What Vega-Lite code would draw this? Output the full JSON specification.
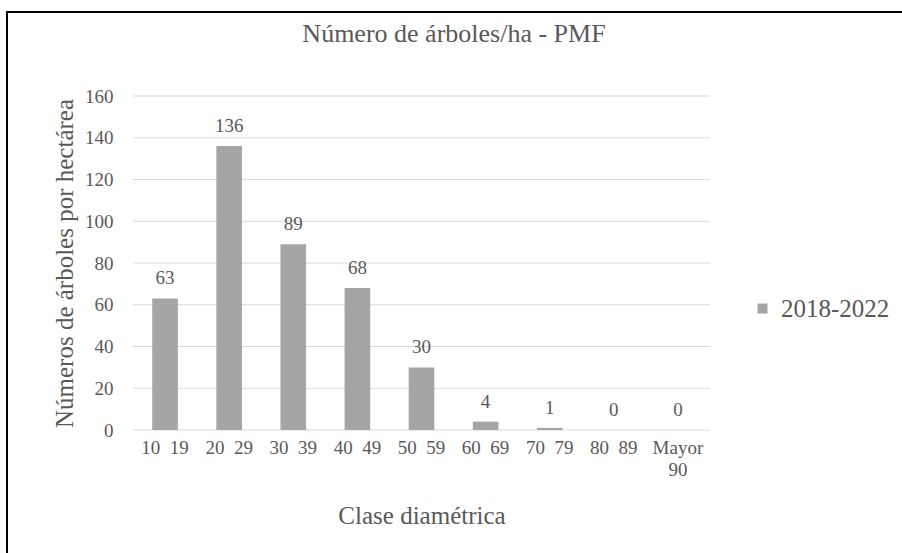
{
  "$schema": "https://vega.github.io/schema/vega-lite/v6.json",
  "width": 897,
  "height": 543,
  "autosize": {"type": "none"},
  "padding": {"left": 7, "top": 12, "right": -2, "bottom": -2},
  "background": "white",
  "title": {
    "text": "Número de árboles/ha - PMF",
    "font": "Liberation Serif",
    "fontSize": 26,
    "fontWeight": "normal",
    "color": "#595959",
    "anchor": "middle",
    "dx": -1.5,
    "offset": -35
  },
  "data": {
    "values": [
      {"clase": "10 19", "arboles": 63, "serie": "2018-2022"},
      {"clase": "20 29", "arboles": 136, "serie": "2018-2022"},
      {"clase": "30 39", "arboles": 89, "serie": "2018-2022"},
      {"clase": "40 49", "arboles": 68, "serie": "2018-2022"},
      {"clase": "50 59", "arboles": 30, "serie": "2018-2022"},
      {"clase": "60 69", "arboles": 4, "serie": "2018-2022"},
      {"clase": "70 79", "arboles": 1, "serie": "2018-2022"},
      {"clase": "80 89", "arboles": 0, "serie": "2018-2022"},
      {"clase": "Mayor 90", "arboles": 0, "serie": "2018-2022"}
    ]
  },
  "encoding": {
    "x": {
      "field": "clase",
      "type": "nominal",
      "sort": null,
      "title": "Clase diamétrica",
      "scale": {
        "domain": ["10 19", "20 29", "30 39", "40 49", "50 59", "60 69", "70 79", "80 89", "Mayor 90"],
        "range": [126, 703],
        "paddingInner": 0.6,
        "paddingOuter": 0.3
      },
      "axis": {
        "offset": -125,
        "domain": false,
        "labelAngle": 0,
        "labelFont": "Liberation Serif",
        "labelFontSize": 19,
        "labelColor": "#595959",
        "labelPadding": 8,
        "labelOverlap": false,
        "labelBound": false,
        "labelLineHeight": 22,
        "labelExpr": "datum.value == 'Mayor 90' ? ['Mayor', '90'] : replace(datum.value, ' ', '\u00a0\u00a0')",
        "ticks": false,
        "tickSize": 0,
        "titleFont": "Liberation Serif",
        "titleFontSize": 25,
        "titleFontWeight": "normal",
        "titleColor": "#595959",
        "titlePadding": 24
      }
    },
    "y": {
      "field": "arboles",
      "type": "quantitative",
      "title": "Números de árboles por hectárea",
      "scale": {"domain": [0, 160], "range": [418, 84], "nice": false},
      "axis": {
        "offset": -126,
        "values": [0, 20, 40, 60, 80, 100, 120, 140, 160],
        "domain": false,
        "ticks": false,
        "tickSize": 0,
        "grid": false,
        "labelFont": "Liberation Serif",
        "labelFontSize": 19,
        "labelColor": "#595959",
        "labelPadding": 20,
        "titleFont": "Liberation Serif",
        "titleFontSize": 25,
        "titleFontWeight": "normal",
        "titleColor": "#595959",
        "titlePadding": 7
      }
    }
  },
  "layer": [
    {
      "data": {
        "values": [
          {"grid": 0}, {"grid": 20}, {"grid": 40}, {"grid": 60}, {"grid": 80},
          {"grid": 100}, {"grid": 120}, {"grid": 140}, {"grid": 160}
        ]
      },
      "mark": {"type": "rule", "color": "#D9D9D9", "strokeWidth": 1},
      "encoding": {
        "y": {"field": "grid", "type": "quantitative", "title": "Números de árboles por hectárea"},
        "x": {"datum": "10 19", "type": "nominal", "bandPosition": -0.75, "title": "Clase diamétrica"},
        "x2": {"datum": "Mayor 90", "bandPosition": 1.75}
      }
    },
    {
      "mark": {"type": "bar"},
      "encoding": {
        "color": {
          "field": "serie",
          "type": "nominal",
          "scale": {"range": ["#A5A5A5"]},
          "legend": {
            "title": null,
            "orient": "none",
            "legendX": 743,
            "legendY": 284,
            "padding": 0,
            "symbolType": "square",
            "symbolSize": 100,
            "symbolStrokeWidth": 0,
            "labelFont": "Liberation Serif",
            "labelFontSize": 25,
            "labelColor": "#595959",
            "labelOffset": 6
          }
        }
      }
    },
    {
      "mark": {"type": "text", "dy": -14, "baseline": "alphabetic", "font": "Liberation Serif", "fontSize": 19, "color": "#595959"},
      "encoding": {"text": {"field": "arboles", "type": "quantitative"}}
    }
  ],
  "config": {
    "font": "Liberation Serif",
    "view": {"stroke": "#000000", "strokeWidth": 2}
  }
}
